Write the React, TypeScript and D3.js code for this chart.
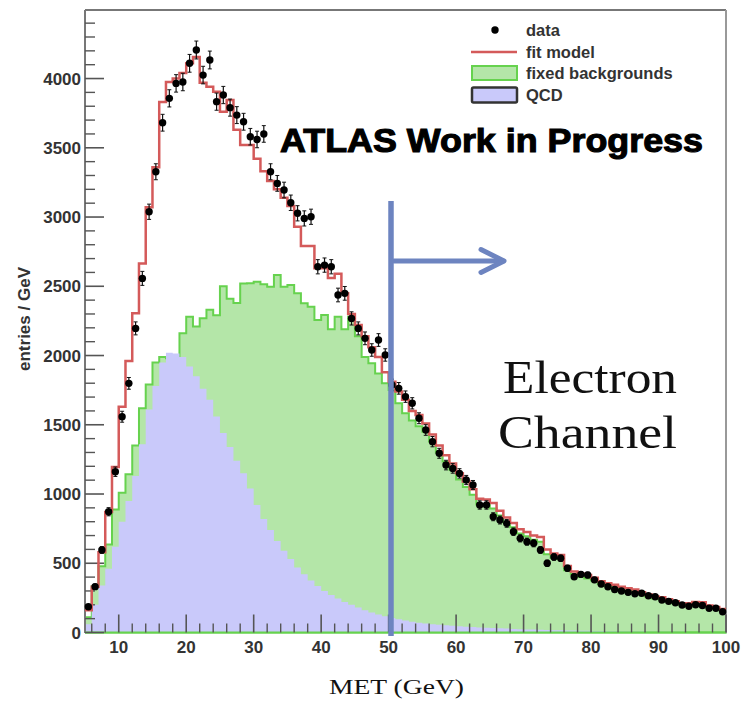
import React from 'react';
import * as d3 from 'd3';

// Bin lower edges (GeV), 1 GeV bins from 5 to 100
const binLow = [5,6,7,8,9,10,11,12,13,14,15,16,17,18,19,20,21,22,23,24,25,26,27,28,29,30,31,32,33,34,35,36,37,38,39,40,41,42,43,44,45,46,47,48,49,50,51,52,53,54,55,56,57,58,59,60,61,62,63,64,65,66,67,68,69,70,71,72,73,74,75,76,77,78,79,80,81,82,83,84,85,86,87,88,89,90,91,92,93,94,95,96,97,98,99];

const dataValues = [186,331,596,872,1161,1558,1799,2196,2557,3038,3327,3681,3857,3965,3975,4110,4206,4025,4134,3833,3881,3790,3736,3688,3580,3560,3600,3327,3243,3195,3103,3027,2990,3002,2641,2653,2641,2437,2449,2268,2196,2124,2040,2112,2004,1787,1763,1703,1655,1547,1462,1378,1294,1209,1185,1149,1101,1065,921,921,836,812,788,728,680,656,644,596,500,545,536,464,403,420,415,380,350,330,310,300,290,280,283,265,258,235,225,215,199,190,200,195,175,175,150];

const fitModel = [160,330,580,870,1195,1630,1960,2305,2665,3070,3360,3830,3975,4000,4040,4110,4155,3970,3940,3905,3760,3845,3630,3520,3520,3420,3330,3260,3200,3140,3080,2930,2790,2790,2630,2630,2560,2590,2450,2300,2220,2140,2060,1990,1880,1810,1740,1680,1600,1570,1510,1430,1350,1280,1220,1150,1090,1035,965,960,935,880,830,790,745,725,700,690,600,570,560,480,440,425,415,395,370,355,345,330,320,310,290,275,260,255,240,225,210,212,220,218,195,185,170];

const fixedBackgrounds = [110,334,479,636,889,1010,1142,1350,1620,1790,1950,1990,1980,1960,2160,2280,2210,2270,2330,2290,2500,2410,2380,2520,2521,2533,2515,2497,2581,2497,2509,2449,2377,2352,2256,2292,2190,2280,2190,2280,2140,1990,1944,1871,1799,1751,1655,1583,1530,1490,1450,1380,1300,1235,1175,1105,1050,995,925,925,895,845,795,760,715,695,670,655,565,540,530,450,420,400,390,375,350,335,325,310,300,292,275,260,245,240,228,212,198,200,208,205,185,175,160];

const qcd = [60,200,340,460,620,800,950,1130,1360,1610,1780,1950,2020,2015,1990,1920,1850,1760,1680,1560,1440,1340,1240,1150,1040,920,820,740,660,590,530,470,420,375,335,300,270,245,220,200,180,160,145,130,118,105,95,86,78,71,65,60,56,52,48,45,42,39,36,34,32,30,28,26,24,22,21,20,18,17,16,15,14,13,12,11,10,9,9,8,8,7,7,6,6,6,5,5,5,4,4,4,4,3,3];

const yTickLabels = [0, 500, 1000, 1500, 2000, 2500, 3000, 3500, 4000];
const xTickLabels = [10, 20, 30, 40, 50, 60, 70, 80, 90, 100];
const legendLabels = ['data', 'fit model', 'fixed backgrounds', 'QCD'];

const SANS = '"Liberation Sans", Arial, Helvetica, sans-serif';
const SERIF = '"Liberation Serif", "Times New Roman", serif';

export default function App() {
  const x = d3.scaleLinear().domain([5, 100]).range([85, 726]);
  const y = d3.scaleLinear().domain([0, 4500]).range([632.5, 9.3]);
  const y0 = y(0);

  const stepPts = (vals: number[]) => [
    ...binLow.map((b, i) => [b, vals[i]] as [number, number]),
    [100, vals[vals.length - 1]] as [number, number],
  ];
  const line = d3.line<[number, number]>().x(d => x(d[0])).y(d => y(d[1])).curve(d3.curveStepAfter);
  const area = d3.area<[number, number]>().x(d => x(d[0])).y0(y0).y1(d => y(d[1])).curve(d3.curveStepAfter);

  const greenPts = stepPts(fixedBackgrounds);
  const greenOutline = line([[5, 0], ...greenPts, [100, 0], [5, 0]]);

  const yMinor = d3.range(100, 4500, 100).filter(v => v % 500 !== 0);
  const xMinor = d3.range(6, 100, 2).filter(v => v % 10 !== 0);

  const legendY = [30, 52, 73, 95];

  return (
    <svg width={746} height={701} style={{ position: 'absolute', left: 0, top: 0, background: '#fff' }}>
      <rect x={0} y={0} width={746} height={701} fill="#fff" />
      {/* histograms */}
      <path d={area(greenPts) || ''} fill="#b4e6a8" />
      <path d={greenOutline || ''} fill="none" stroke="#66d24e" strokeWidth={2} />
      <path d={area(stepPts(qcd)) || ''} fill="#c9c9fa" />
      {/* frame */}
      <line x1={85} y1={10} x2={726} y2={10} stroke="#777" strokeWidth={2} />
      <line x1={85} y1={10} x2={85} y2={633} stroke="#777" strokeWidth={2} />
      <line x1={726} y1={10} x2={726} y2={633} stroke="#999" strokeWidth={2} />
      <line x1={85} y1={y0} x2={726} y2={y0} stroke="#66d24e" strokeWidth={2} />
      {/* y ticks */}
      {yTickLabels.map(v => (
        <line key={'ym' + v} x1={85} x2={104} y1={y(v)} y2={y(v)} stroke="#555" strokeWidth={1.6} />
      ))}
      {yMinor.map(v => (
        <line key={'yn' + v} x1={85} x2={95} y1={y(v)} y2={y(v)} stroke="#555" strokeWidth={1.4} />
      ))}
      {/* x ticks */}
      {xTickLabels.map(v => (
        <line key={'xm' + v} x1={x(v)} x2={x(v)} y1={y0} y2={y0 - 18} stroke="#555" strokeWidth={1.6} />
      ))}
      {xMinor.map(v => (
        <line key={'xn' + v} x1={x(v)} x2={x(v)} y1={y0} y2={y0 - 9} stroke="#555" strokeWidth={1.4} />
      ))}
      {/* fit model */}
      <path d={line(stepPts(fitModel)) || ''} fill="none" stroke="#d45a5a" strokeWidth={2.5} />
      {/* data points */}
      {binLow.map((b, i) => {
        const v = dataValues[i];
        const cx = x(b + 0.5);
        const e = Math.sqrt(v);
        return (
          <g key={'d' + b}>
            <line x1={cx} x2={cx} y1={y(v - e)} y2={y(v + e)} stroke="#111" strokeWidth={1.2} />
            <line x1={cx - 2} x2={cx + 2} y1={y(v + e)} y2={y(v + e)} stroke="#111" strokeWidth={1} />
            <line x1={cx - 2} x2={cx + 2} y1={y(v - e)} y2={y(v - e)} stroke="#111" strokeWidth={1} />
            <circle cx={cx} cy={y(v)} r={3.7} fill="#000" />
          </g>
        );
      })}
      {/* tick labels */}
      {yTickLabels.map(v => (
        <text key={'yl' + v} x={81} y={y(v) + 6} textAnchor="end" fontFamily={SANS} fontWeight="bold" fontSize={17} fill="#333">{v}</text>
      ))}
      {xTickLabels.map(v => (
        <text key={'xl' + v} x={x(v)} y={653} textAnchor="middle" fontFamily={SANS} fontWeight="bold" fontSize={17} fill="#333">{v}</text>
      ))}
      <text transform="translate(30,319) rotate(-90)" textAnchor="middle" fontFamily={SANS} fontWeight="bold" fontSize={17} fill="#333">entries / GeV</text>
      {/* legend */}
      <circle cx={495} cy={legendY[0]} r={3.7} fill="#000" />
      <line x1={471} x2={517} y1={legendY[1]} y2={legendY[1]} stroke="#d45a5a" strokeWidth={2.5} />
      <rect x={472} y={legendY[2] - 7} width={45} height={14} fill="#b4e6a8" stroke="#66d24e" strokeWidth={2} />
      <rect x={472} y={legendY[3] - 7.5} width={45} height={15} fill="#c9c9fa" stroke="#333" strokeWidth={2.5} rx={1.5} />
      {legendLabels.map((t, i) => (
        <text key={t} x={526} y={legendY[i] + 5.5} fontFamily={SANS} fontWeight="bold" fontSize={16.5} fill="#333">{t}</text>
      ))}
      {/* annotations */}
      <text x={280} y={152} textLength={423} lengthAdjust="spacingAndGlyphs" fontFamily={SANS} fontWeight="bold" fontSize={33} fill="#000" stroke="#000" strokeWidth={1.1}>ATLAS Work in Progress</text>
      <line x1={391} x2={391} y1={201} y2={636} stroke="#6d84c0" strokeWidth={5.5} />
      <line x1={394} x2={503} y1={261} y2={261} stroke="#6d84c0" strokeWidth={5} strokeLinecap="round" />
      <polyline points="481,249.5 504,261 481,272.5" fill="none" stroke="#6d84c0" strokeWidth={5} strokeLinecap="round" strokeLinejoin="round" />
      <text x={503} y={393} textLength={174} lengthAdjust="spacingAndGlyphs" fontFamily={SERIF} fontSize={46} fill="#111">Electron</text>
      <text x={498} y={448} textLength={179} lengthAdjust="spacingAndGlyphs" fontFamily={SERIF} fontSize={46} fill="#111">Channel</text>
      <text x={329} y={694} textLength={135} lengthAdjust="spacingAndGlyphs" fontFamily={SERIF} fontSize={22} fill="#111">MET (GeV)</text>
    </svg>
  );
}
